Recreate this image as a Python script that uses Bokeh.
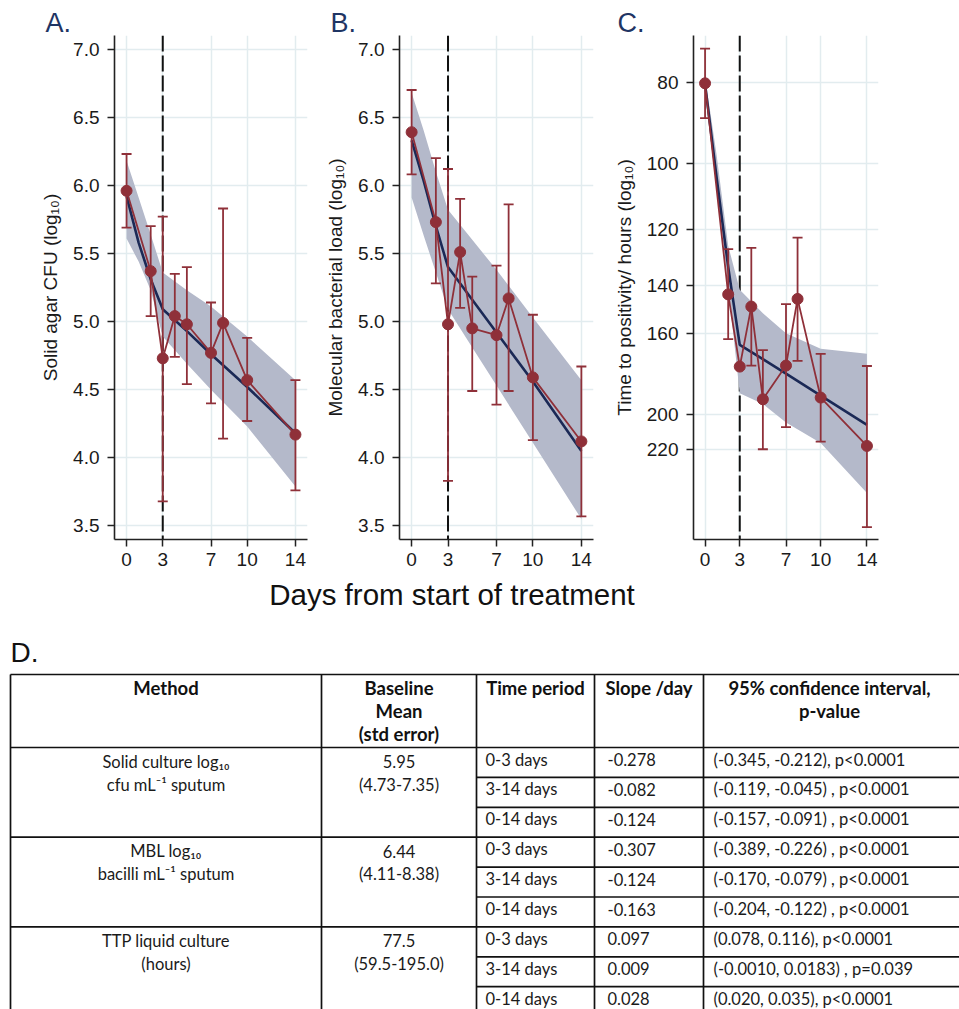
import numpy as np
from bokeh.plotting import figure
from bokeh.layouts import column, row
from bokeh.models import Range1d, FixedTicker, Span, NumeralTickFormatter
from bokeh.embed import file_html
from bokeh.resources import INLINE
from bokeh.core.properties import value

# ---------------- data ----------------
days = [0, 2, 3, 4, 5, 7, 8, 10, 14]
fit_days = [0, 1, 2, 3, 5, 7, 10, 14]
x_ticks = [0, 3, 7, 10, 14]

a_mean = [5.96, 5.37, 4.73, 5.04, 4.98, 4.77, 4.99, 4.57, 4.17]
a_lower = [5.69, 5.04, 3.68, 4.74, 4.54, 4.40, 4.14, 4.27, 3.76]
a_upper = [6.23, 5.70, 5.77, 5.35, 5.40, 5.14, 5.83, 4.88, 4.57]
a_fit = [5.92, 5.58, 5.31, 5.09, 4.93, 4.76, 4.52, 4.18]
a_band_lower = [5.61, 5.44, 5.23, 4.89, 4.69, 4.50, 4.23, 3.79]
a_band_upper = [6.18, 5.91, 5.64, 5.36, 5.23, 5.11, 4.89, 4.57]

b_mean = [6.39, 5.73, 4.98, 5.51, 4.95, 4.90, 5.17, 4.59, 4.12]
b_lower = [6.08, 5.28, 3.83, 5.10, 4.49, 4.39, 4.49, 4.13, 3.57]
b_upper = [6.70, 6.20, 6.12, 5.90, 5.33, 5.41, 5.86, 5.05, 4.67]
b_fit = [6.33, 6.03, 5.70, 5.40, 5.16, 4.92, 4.56, 4.05]
b_band_lower = [5.91, 5.63, 5.36, 5.09, 4.81, 4.53, 4.11, 3.55]
b_band_upper = [6.68, 6.40, 6.10, 5.82, 5.60, 5.38, 5.03, 4.57]

c_mean = [80.2, 143.5, 175.1, 148.4, 191.6, 174.6, 145.3, 190.7, 217.9]
c_lower = [72.9, 126.7, np.nan, 126.2, 167.3, 147.4, 122.7, 169.1, 174.8]
c_upper = [88.3, 162.3, np.nan, 174.6, 219.9, 206.9, 172.4, 215.3, 272.5]
c_fit = [80.4, 104.0, 133.0, 164.9, 171.5, 178.5, 189.7, 205.6]
c_band_lower = [78.8, 97.7, 125.5, 141.7, 151.2, 159.7, 166.7, 169.0]
c_band_upper = [82.5, 106.5, 140.5, 188.5, 194.1, 204.3, 216.1, 248.0]

ab_y_ticks = [3.5, 4.0, 4.5, 5.0, 5.5, 6.0, 6.5, 7.0]
c_y_ticks = [80, 100, 120, 140, 160, 200, 220]

panel_letters = ["A.", "B.", "C."]
y_labels = ["Solid agar CFU (log\u2081\u2080)", "Molecular bacterial load (log\u2081\u2080)",
            "Time to positivity/ hours (log\u2081\u2080)"]
x_title = "Days from start of treatment"
table_letter = "D."

methods = [["Solid culture log\u2081\u2080", "cfu mL\u207b\u00b9 sputum"],
           ["MBL log\u2081\u2080", "bacilli mL\u207b\u00b9 sputum"],
           ["TTP liquid culture", "(hours)"]]
baseline_mean = ["5.95", "6.44", "77.5"]
baseline_range = ["(4.73-7.35)", "(4.11-8.38)", "(59.5-195.0)"]
periods = ["0-3 days", "3-14 days", " 0-14 days"] * 3
slopes = ["-0.278", "-0.082", "-0.124", "-0.307", "-0.124", "-0.163", " 0.097", " 0.009", " 0.028"]
cis = ["(-0.345, -0.212), p<0.0001", "(-0.119, -0.045) , p<0.0001", "(-0.157, -0.091) , p<0.0001",
       "(-0.389, -0.226) , p<0.0001", "(-0.170, -0.079) , p<0.0001", "(-0.204, -0.122) , p<0.0001",
       "(0.078, 0.116), p<0.0001", "(-0.0010, 0.0183) , p=0.039", "(0.020, 0.035), p<0.0001"]
headers = [["Method"], ["Baseline", "Mean", "(std error)"], ["Time period"], ["Slope /day"],
           ["95% confidence interval,", "p-value"]]

# ---------------- styles ----------------
RED = "#8f3039"
NAVY = "#1b2956"
BAND = "#b4b9ca"
GRID = "#e2ecef"
TITLE_C = "#1f3564"
FONT = "Liberation Sans"
TFONT = "Lato"
W = 959
TOP_H = 574


def panel(width, left, right, y_range, y_type, mean, lower, upper, fit, blo, bhi,
          ylabel, yticks, yfmt, letter, letter_offset):
    p = figure(width=width, height=TOP_H, x_range=Range1d(-1, 15), y_range=y_range,
               y_axis_type=y_type, toolbar_location=None, output_backend="svg",
               min_border_left=left, min_border_right=right, min_border_top=35,
               min_border_bottom=35, outline_line_color=None, background_fill_color="white",
               title=letter)
    p.title.align = "left"
    p.title.offset = letter_offset
    p.title.standoff = -4
    p.title.text_font = FONT
    p.title.text_font_size = "27px"
    p.title.text_font_style = "normal"
    p.title.text_color = TITLE_C

    p.xaxis.ticker = FixedTicker(ticks=x_ticks)
    p.yaxis.ticker = FixedTicker(ticks=yticks)
    p.yaxis.formatter = NumeralTickFormatter(format=yfmt)
    p.xgrid.ticker = FixedTicker(ticks=x_ticks)
    p.ygrid.ticker = FixedTicker(ticks=yticks)
    p.grid.grid_line_color = GRID
    p.grid.grid_line_width = 1.5
    for ax in (p.xaxis, p.yaxis):
        ax.axis_line_color = "#222222"
        ax.axis_line_width = 1.6
        ax.major_tick_line_color = "#222222"
        ax.major_tick_line_width = 1.5
        ax.major_tick_out = 7
        ax.major_tick_in = 0
        ax.minor_tick_line_color = None
        ax.major_label_text_font = FONT
        ax.major_label_text_font_size = "19px"
        ax.major_label_text_color = "#1a1a1a"
    p.xaxis.major_label_standoff = 6
    p.yaxis.major_label_standoff = 8
    p.yaxis.axis_label = ylabel
    p.yaxis.axis_label_text_font = FONT
    p.yaxis.axis_label_text_font_size = "19px"
    p.yaxis.axis_label_text_font_style = "normal"
    p.yaxis.axis_label_text_color = "#1a1a1a"
    p.yaxis.axis_label_standoff = 9

    p.add_layout(Span(location=3, dimension="height", line_color="#111111",
                      line_width=2, line_dash="16 4", level="underlay"))
    p.varea(x=fit_days, y1=blo, y2=bhi, fill_color=BAND, fill_alpha=1.0)
    p.line(fit_days, fit, line_color=NAVY, line_width=2.6)
    p.line(days, mean, line_color=RED, line_width=1.8)
    d = np.array(days, dtype=float)
    lo = np.array(lower, dtype=float)
    hi = np.array(upper, dtype=float)
    ok = ~np.isnan(lo)
    p.segment(x0=d[ok], y0=lo[ok], x1=d[ok], y1=hi[ok], line_color=RED, line_width=1.8)
    p.scatter(d[ok], lo[ok], marker="dash", size=10, line_color=RED, line_width=1.8)
    p.scatter(d[ok], hi[ok], marker="dash", size=10, line_color=RED, line_width=1.8)
    p.scatter(days, mean, size=11, fill_color=RED, line_color=RED)
    return p


pA = panel(320, 114, 13, Range1d(3.4, 7.1), "linear", a_mean, a_lower, a_upper, a_fit,
           a_band_lower, a_band_upper, y_labels[0], ab_y_ticks, "0.0", panel_letters[0], -69)
pB = panel(290, 79, 17, Range1d(3.4, 7.1), "linear", b_mean, b_lower, b_upper, b_fit,
           b_band_lower, b_band_upper, y_labels[1], ab_y_ticks, "0.0", panel_letters[1], -69)
pC = panel(349, 81, 81, Range1d(282, 70.3), "log", c_mean, c_lower, c_upper, c_fit,
           c_band_lower, c_band_upper, y_labels[2], c_y_ticks, "0", panel_letters[2], -76)

# ---------------- table figure ----------------
TB_H = 1009 - TOP_H
tbl = figure(width=W, height=TB_H, x_range=Range1d(0, W), y_range=Range1d(1009, TOP_H),
             x_axis_location=None, y_axis_location=None, toolbar_location=None,
             output_backend="svg", min_border=0, outline_line_color=None)
tbl.grid.visible = False

tbl.text(x=[451.5], y=[594], text=[x_title], text_font=value(FONT),
         text_font_size="29.5px", text_align="center", text_baseline="middle", text_color="#111111")
tbl.text(x=[10], y=[652], text=[table_letter], text_font=value(FONT), text_font_size="28px",
         text_align="left", text_baseline="middle", text_color="#111111")

col_edges = [10, 321, 476, 594, 703, 963]
top = 674
head_bottom = 747
row_h = 29.9
n_rows = len(periods)
row_lines = [head_bottom + i * row_h for i in range(n_rows + 1)]
bottom = row_lines[-1]
LC = "#111111"

tbl.segment(x0=col_edges, y0=[top] * len(col_edges), x1=col_edges, y1=[bottom] * len(col_edges),
            line_color=LC, line_width=1.7)
full_y = [top, head_bottom] + [row_lines[i] for i in range(3, n_rows + 1, 3)]
tbl.segment(x0=[col_edges[0]] * len(full_y), y0=full_y, x1=[col_edges[-1]] * len(full_y), y1=full_y,
            line_color=LC, line_width=1.7)
sub_y = [row_lines[i] for i in range(1, n_rows) if i % 3 != 0]
tbl.segment(x0=[col_edges[2]] * len(sub_y), y0=sub_y, x1=[col_edges[-1]] * len(sub_y), y1=sub_y,
            line_color=LC, line_width=1.7)

hx, hy, ht = [], [], []
for ci, lines in enumerate(headers):
    cx = (col_edges[ci] + col_edges[ci + 1]) / 2 if ci < 4 else 829
    for li, t in enumerate(lines):
        hx.append(cx)
        hy.append(687 + li * 23)
        ht.append(t)
tbl.text(x=hx, y=hy, text=ht, text_font=value(TFONT), text_font_size="18.5px",
         text_font_style="bold", text_align="center", text_baseline="middle", text_color="#111111")

gx, gy, gt = [], [], []
for g in range(3):
    gtop = row_lines[g * 3]
    for li in range(2):
        gx.append((col_edges[0] + col_edges[1]) / 2)
        gy.append(gtop + 14 + li * 23)
        gt.append(methods[g][li])
    gx += [(col_edges[1] + col_edges[2]) / 2] * 2
    gy += [gtop + 14, gtop + 37]
    gt += [baseline_mean[g], baseline_range[g]]
tbl.text(x=gx, y=gy, text=gt, text_font=value(TFONT), text_font_size="16.5px",
         text_align="center", text_baseline="middle", text_color="#1a1a1a")

text_y = [row_lines[i] + 12 for i in range(n_rows)]
for xpos, vals in ((485, periods), (607, slopes), (713, cis)):
    tbl.text(x=[xpos] * n_rows, y=text_y, text=vals, text_font=value(TFONT), text_font_size="16.5px",
             text_align="left", text_baseline="middle", text_color="#1a1a1a")

layout = column(row(pA, pB, pC), tbl)
open("out.html", "w").write(file_html(layout, INLINE))
